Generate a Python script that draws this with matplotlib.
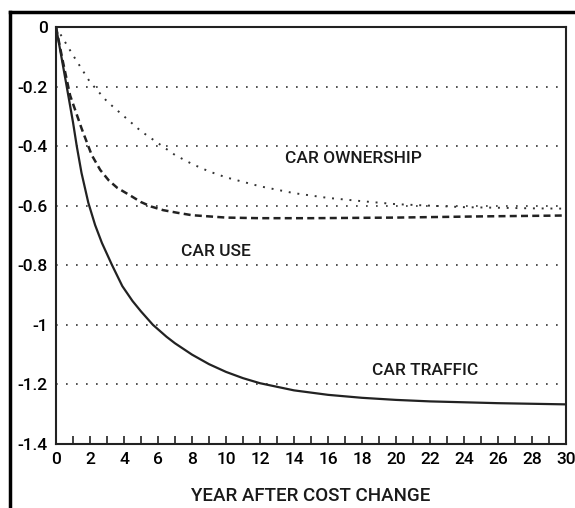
import matplotlib
matplotlib.use("Agg")
import matplotlib.pyplot as plt
from matplotlib.lines import Line2D

plt.rcParams['font.family'] = ['Roboto', 'Liberation Sans', 'DejaVu Sans']

# values
own_t = [0, 1, 2, 3, 4, 5, 6, 7, 8, 9, 10, 12, 14, 16, 18, 20, 22, 24, 26, 28, 30]
own_v = [0, -0.095, -0.185, -0.25, -0.30, -0.35, -0.39, -0.43, -0.46, -0.485, -0.505,
         -0.535, -0.558, -0.574, -0.585, -0.595, -0.60, -0.605, -0.607, -0.609, -0.61]

use_t = [0, 0.4, 0.83, 1.5, 2.1, 2.6, 3.1, 3.6, 4.4, 5.0, 5.6, 6.3, 7.15, 8, 10, 12,
         15, 20, 25, 30]
use_v = [0, -0.115, -0.23, -0.34, -0.43, -0.48, -0.515, -0.54, -0.567, -0.588,
         -0.603, -0.615, -0.624, -0.632, -0.64, -0.642, -0.642, -0.64, -0.636, -0.633]

traffic_t = [0, 0.3, 0.63, 1.0, 1.22, 1.5, 1.9, 2.3, 2.7, 3.3, 3.9, 4.5, 5.0, 5.7,
             6.5, 7, 8, 9, 10, 11, 12, 14, 16, 18, 20, 22, 24, 26, 28, 30]
traffic_v = [0, -0.095, -0.2, -0.32, -0.40, -0.49, -0.59, -0.665, -0.725, -0.80,
             -0.87, -0.92, -0.955, -1.0, -1.04, -1.062, -1.1, -1.132, -1.158,
             -1.179, -1.196, -1.22, -1.235, -1.245, -1.252, -1.257, -1.26, -1.263,
             -1.265, -1.267]

grid_levels = [-0.2, -0.4, -0.6, -0.8, -1.0, -1.2]
yticks = [0, -0.2, -0.4, -0.6, -0.8, -1.0, -1.2, -1.4]
ytick_labels = ['0', '-0.2', '-0.4', '-0.6', '-0.8', '-1', '-1.2', '-1.4']
xticks = list(range(0, 31, 2))
labels = [("CAR OWNERSHIP", 17.5, -0.443),
          ("CAR USE", 9.4, -0.753),
          ("CAR TRAFFIC", 21.7, -1.153)]

fig = plt.figure(figsize=(5.75, 5.08), dpi=100)
ax = fig.add_axes((0.0974, 0.126, 0.887, 0.821))

for g in grid_levels:
    ax.axhline(g, color='#333333', lw=1.2, ls=(0, (1, 5)), zorder=1)

ax.plot(own_t, own_v, color='#333333', lw=1.4, ls=(0, (1, 3.5)), zorder=2)
ax.plot(use_t, use_v, color='#222222', lw=1.8, ls=(0, (2.8, 1.7)), zorder=3)
ax.plot(traffic_t, traffic_v, color='#222222', lw=1.6, zorder=4)

for txt, x, y in labels:
    ax.text(x, y, txt, fontsize=12.5, fontweight='medium', ha='center',
            va='center', color='#1a1a1a')

ax.set_xlim(0, 30)
ax.set_ylim(-1.4, 0)
ax.set_xticks(xticks)
ax.set_xticks(range(1, 30), minor=True)
ax.set_yticks(yticks)
ax.set_yticklabels(ytick_labels)
ax.tick_params(axis='x', which='both', direction='in', length=6, width=1.2,
               labelsize=12.5, pad=6, color='#222222')
ax.tick_params(axis='y', length=0, labelsize=12.5, pad=6)
for lab in ax.get_xticklabels() + ax.get_yticklabels():
    lab.set_fontweight('medium')
# no tick marks at the axis ends
for t in ax.xaxis.get_major_ticks():
    if t.get_loc() in (0, 30):
        t.tick1line.set_visible(False)
for s in ax.spines.values():
    s.set_linewidth(1.5)
    s.set_color('#222222')
ax.set_xlabel("YEAR AFTER COST CHANGE", fontsize=13.5, fontweight='medium',
              labelpad=14, color='#1a1a1a')

# outer frame of the scanned page
fig.add_artist(Line2D([10 / 575, 1], [1 - 12 / 508, 1 - 12 / 508], color='black', lw=2.5))
fig.add_artist(Line2D([10 / 575, 10 / 575], [0, 1 - 12 / 508], color='black', lw=2.5))

fig.savefig("out.png", dpi=100)
